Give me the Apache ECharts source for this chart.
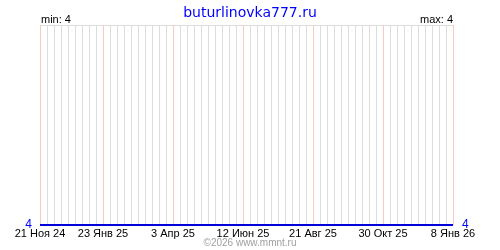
<!DOCTYPE html>
<html><head><meta charset="utf-8">
<script src="https://cdn.jsdelivr.net/npm/echarts@6/dist/echarts.min.js"></script>
<style>html,body{margin:0;padding:0;background:#fff}#c{width:500px;height:250px}</style>
</head><body><div id="c"></div>
<script>
const siteTitle = 'buturlinovka777.ru';
const copyright = '©2026 www.mmnt.ru';
const startDate = '2024-11-21';
const endDate = '2026-01-08';
const seriesDates = ['2024-11-21', '2026-01-08'];
const seriesValues = [4, 4];
const minValue = 4;
const maxValue = 4;
const tickDates = ['2024-11-21','2025-01-23','2025-04-03','2025-06-12','2025-08-21','2025-10-30','2026-01-08'];
const tickLabels = ['21 Ноя 24','23 Янв 25','3 Апр 25','12 Июн 25','21 Авг 25','30 Окт 25','8 Янв 26'];

const ts = d => Date.parse(d + 'T00:00:00Z');
const dayOf = d => Math.round((ts(d) - ts(startDate)) / 86400000);
const tickDays = tickDates.map(dayOf);
const spanDays = dayOf(endDate);
const labelMap = {};
tickDays.forEach((t, i) => { labelMap[t] = tickLabels[i]; });

// colour per weekly grid line: pink on labelled dates, grey otherwise
const weekCount = Math.floor(spanDays / 7) + 1;
const gridColors = [];
for (let i = 0; i < weekCount; i++) gridColors.push(tickDays.includes(i * 7) ? '#ffc8c8' : '#dddddd');

const chart = echarts.init(document.getElementById('c'), null, {renderer: 'canvas'});
const font = 'Liberation Sans, Arial, sans-serif';
chart.setOption({
  animation: false,
  backgroundColor: '#fff',
  title: {
    text: siteTitle, left: 'center', top: 1,
    textStyle: {color: '#0000ff', fontSize: 14, fontWeight: 'normal', fontFamily: 'DejaVu Sans'}
  },
  graphic: [
    {type: 'text', left: 41, top: 14, style: {text: 'min: ' + minValue, fontSize: 11, fontFamily: font, fill: '#000'}},
    {type: 'text', right: 47, top: 14, style: {text: 'max: ' + maxValue, fontSize: 11, fontFamily: font, fill: '#000'}},
    {type: 'text', left: 'center', top: 238, style: {text: copyright, fontSize: 10, fontFamily: font, fill: '#a0a0a0'}}
  ],
  grid: {left: 40, right: 47, top: 25, bottom: 25, containLabel: false},
  xAxis: [
    {
      type: 'value', min: 0, max: spanDays,
      axisLine: {show: false}, axisTick: {show: false}, splitLine: {show: false},
      axisLabel: {
        customValues: tickDays, showMinLabel: true, showMaxLabel: true, hideOverlap: false,
        formatter: v => labelMap[v] || '', color: '#000', fontSize: 11, fontFamily: font, margin: 3
      }
    },
    {
      type: 'value', min: 0, max: spanDays, interval: 7, show: true,
      axisLine: {show: false}, axisTick: {show: false}, axisLabel: {show: false},
      splitLine: {show: true, lineStyle: {color: gridColors, width: 1}}
    }
  ],
  yAxis: [
    {
      type: 'value', min: 4, max: 5, interval: 1, position: 'left',
      axisLine: {show: false}, axisTick: {show: false},
      axisLabel: {formatter: v => v === 4 ? '4' : '', color: '#0000ff', fontSize: 12, fontFamily: font, margin: 8},
      splitLine: {show: true, lineStyle: {color: '#dddddd'}}
    },
    {
      type: 'value', min: 4, max: 5, interval: 1, position: 'right',
      axisLine: {show: false}, axisTick: {show: false},
      axisLabel: {formatter: v => v === 4 ? '4' : '', color: '#0000ff', fontSize: 12, fontFamily: font, margin: 9},
      splitLine: {show: false}
    }
  ],
  series: [{
    type: 'line', xAxisIndex: 0, yAxisIndex: 0,
    data: seriesDates.map((d, i) => [dayOf(d), seriesValues[i]]),
    symbol: 'none', lineStyle: {color: '#0000dd', width: 2}, clip: false,
    z: 5
  }]
});
</script></body></html>
